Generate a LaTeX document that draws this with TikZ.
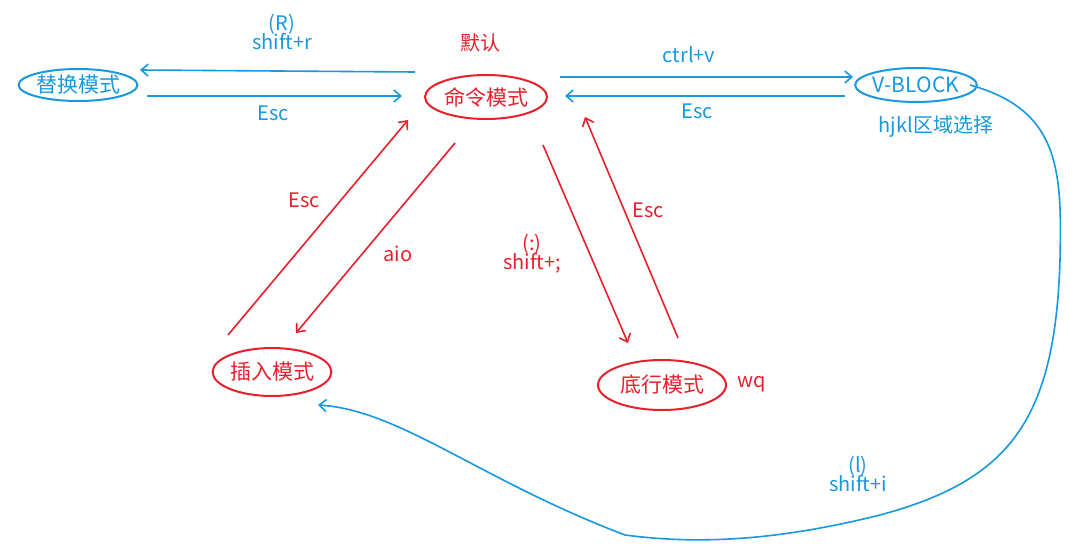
\documentclass[tikz,border=0pt]{standalone}
\usepackage{fontspec}
\setmainfont{Noto Sans CJK SC}
\usetikzlibrary{arrows.meta,shapes.geometric}
\definecolor{rd}{RGB}{232,32,44}
\definecolor{bl}{RGB}{24,152,222}
\tikzset{
 x=1pt,y=-1pt,
 ell/.style={ellipse,draw,line width=2pt,inner sep=0pt,font=\fontsize{21}{22}\selectfont},
 lab/.style={font=\fontsize{20}{23}\selectfont,align=center},
 arr/.style={line width=1.6pt,-{Straight Barb[length=7pt,width=12pt]}},
}
\begin{document}
\begin{tikzpicture}
\useasboundingbox[fill=white] (0,0) rectangle (1084,551);
\node[ell,bl,minimum width=112pt,minimum height=32pt] (th) at (78,85) {替换模式};
\node[ell,rd,minimum width=122pt,minimum height=44pt] (ml) at (486,97) {命令模式};
\node[lab,rd] (mr) at (480,43) {默认};
\node[ell,bl,minimum width=112pt,minimum height=34pt] (vb) at (916,85) {V-BLOCK};
\node[lab,bl] (hj) at (936,127) {hjkl区域选择};
\node[ell,rd,minimum width=118pt,minimum height=48pt] (cr) at (272,372) {插入模式};
\node[ell,rd,minimum width=128pt,minimum height=50pt] (dh) at (662,385) {底行模式};
\node[lab,rd] (wq) at (752,384) {wq};
\coordinate (a1) at (415,72); \coordinate (a2) at (140,70);
\coordinate (b1) at (147,96); \coordinate (b2) at (402,96);
\coordinate (c1) at (560,77); \coordinate (c2) at (853,77);
\coordinate (d1) at (845,96); \coordinate (d2) at (565,96);
\coordinate (e1) at (228,335); \coordinate (e2) at (408,120);
\coordinate (f1) at (455,143); \coordinate (f2) at (296,333);
\coordinate (g1) at (543,145); \coordinate (g2) at (628,343);
\coordinate (h1) at (678,338); \coordinate (h2) at (585,117);
\coordinate (i1) at (970,85); \coordinate (i2) at (625,535); \coordinate (i3) at (318,405);
\draw[arr,bl] (a1) -- (a2);
\draw[arr,bl] (b1) -- (b2);
\draw[arr,bl] (c1) -- (c2);
\draw[arr,bl] (d1) -- (d2);
\draw[arr,rd] (e1) -- (e2);
\draw[arr,rd] (f1) -- (f2);
\draw[arr,rd] (g1) -- (g2);
\draw[arr,rd] (h1) -- (h2);
\draw[line width=1.6pt,bl] (i1) .. controls (1060,110) and (1062,170) .. (1060,260)
  .. controls (1055,420) and (1010,480) .. (880,515) .. controls (780,540) and (700,545) .. (i2);
\draw[arr,bl] (i2) .. controls (480,480) and (400,410) .. (i3);
\node[lab,bl] at (282,32) {(R)\\[-4pt]shift+r};
\node[lab,bl] at (273,113) {Esc};
\node[lab,bl] at (689,55) {ctrl+v};
\node[lab,bl] at (697,111) {Esc};
\node[lab,rd] at (304,200) {Esc};
\node[lab,rd] at (398,254) {aio};
\node[lab,rd] at (532,254) {(:)\\[-4pt]shift+;};
\node[lab,rd] at (648,210) {Esc};
\node[lab,bl] at (858,474) {(l)\\[-4pt]shift+i};
\end{tikzpicture}
\end{document}
